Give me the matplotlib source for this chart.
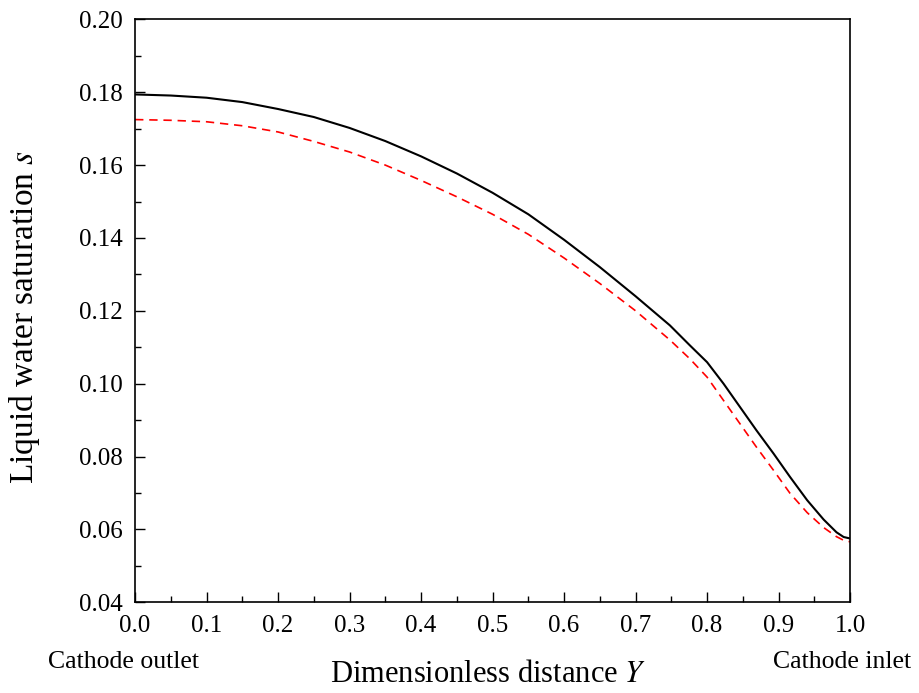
import matplotlib
matplotlib.use("Agg")
import matplotlib.pyplot as plt
from matplotlib.ticker import MultipleLocator, FormatStrFormatter

# fonts - serif look like the original
plt.rcParams['font.family'] = ['Liberation Serif', 'DejaVu Serif']
plt.rcParams['mathtext.fontset'] = 'stix'

# data
y_black = [0.0, 0.05, 0.1, 0.15, 0.2, 0.25, 0.3, 0.35, 0.4, 0.45, 0.5, 0.55, 0.6,
           0.65, 0.7, 0.748, 0.776, 0.8, 0.823, 0.846, 0.869, 0.893, 0.916,
           0.94, 0.963, 0.981, 0.991, 1.0]
s_black = [0.1794, 0.1791, 0.1785, 0.1773, 0.1754, 0.1732, 0.1702, 0.1666, 0.1624,
           0.1577, 0.1524, 0.1465, 0.1395, 0.1320, 0.1240, 0.1160, 0.1105, 0.1059,
           0.1000, 0.0936, 0.0872, 0.0808, 0.0744, 0.0680, 0.0627, 0.0592, 0.0579,
           0.0575]

y_red = [0.0, 0.05, 0.1, 0.15, 0.2, 0.25, 0.3, 0.35, 0.4, 0.45, 0.5, 0.55, 0.6,
         0.65, 0.7, 0.748, 0.776, 0.8, 0.823, 0.846, 0.869, 0.893, 0.916,
         0.94, 0.963, 0.981, 0.991, 1.0]
s_red = [0.1725, 0.1723, 0.1719, 0.1708, 0.1691, 0.1665, 0.1636, 0.1600, 0.1558,
         0.1513, 0.1465, 0.1410, 0.1345, 0.1275, 0.1200, 0.1120, 0.1068, 0.1018,
         0.0954, 0.0890, 0.0826, 0.0762, 0.0699, 0.0646, 0.0605, 0.0580, 0.0570,
         0.0566]

xticks = [0.0, 0.1, 0.2, 0.3, 0.4, 0.5, 0.6, 0.7, 0.8, 0.9, 1.0]
yticks = [0.04, 0.06, 0.08, 0.10, 0.12, 0.14, 0.16, 0.18, 0.20]

fig = plt.figure(figsize=(9.19, 6.93), dpi=100)
ax = fig.add_axes([0.147, 0.131, 0.778, 0.841])

ax.plot(y_black, s_black, color='black', linewidth=1.5)
ax.plot(y_red, s_red, color='red', linewidth=1.2, dashes=(5, 3.5))

ax.set_xlim(0, 1)
ax.set_ylim(0.04, 0.20)
ax.set_xticks(xticks)
ax.set_yticks(yticks)
ax.xaxis.set_minor_locator(MultipleLocator(0.05))
ax.yaxis.set_minor_locator(MultipleLocator(0.01))
ax.xaxis.set_major_formatter(FormatStrFormatter('%.1f'))
ax.yaxis.set_major_formatter(FormatStrFormatter('%.2f'))

ax.tick_params(which='major', direction='in', length=7.5, width=1, labelsize=18, pad=9)
ax.tick_params(which='minor', direction='in', length=4, width=1)
for sp in ax.spines.values():
    sp.set_linewidth(1.2)

# axis titles and end labels placed like the reference
fig.text(0.027, 0.543, 'Liquid water saturation $s$', fontsize=24, rotation=90,
         ha='center', va='center')
fig.text(0.531, 0.016, 'Dimensionless distance $Y$', fontsize=22, ha='center', va='baseline')
fig.text(0.134, 0.036, 'Cathode outlet', fontsize=18.5, ha='center', va='baseline')
fig.text(0.916, 0.036, 'Cathode inlet', fontsize=18.5, ha='center', va='baseline')

fig.savefig('out.png', dpi=100)
